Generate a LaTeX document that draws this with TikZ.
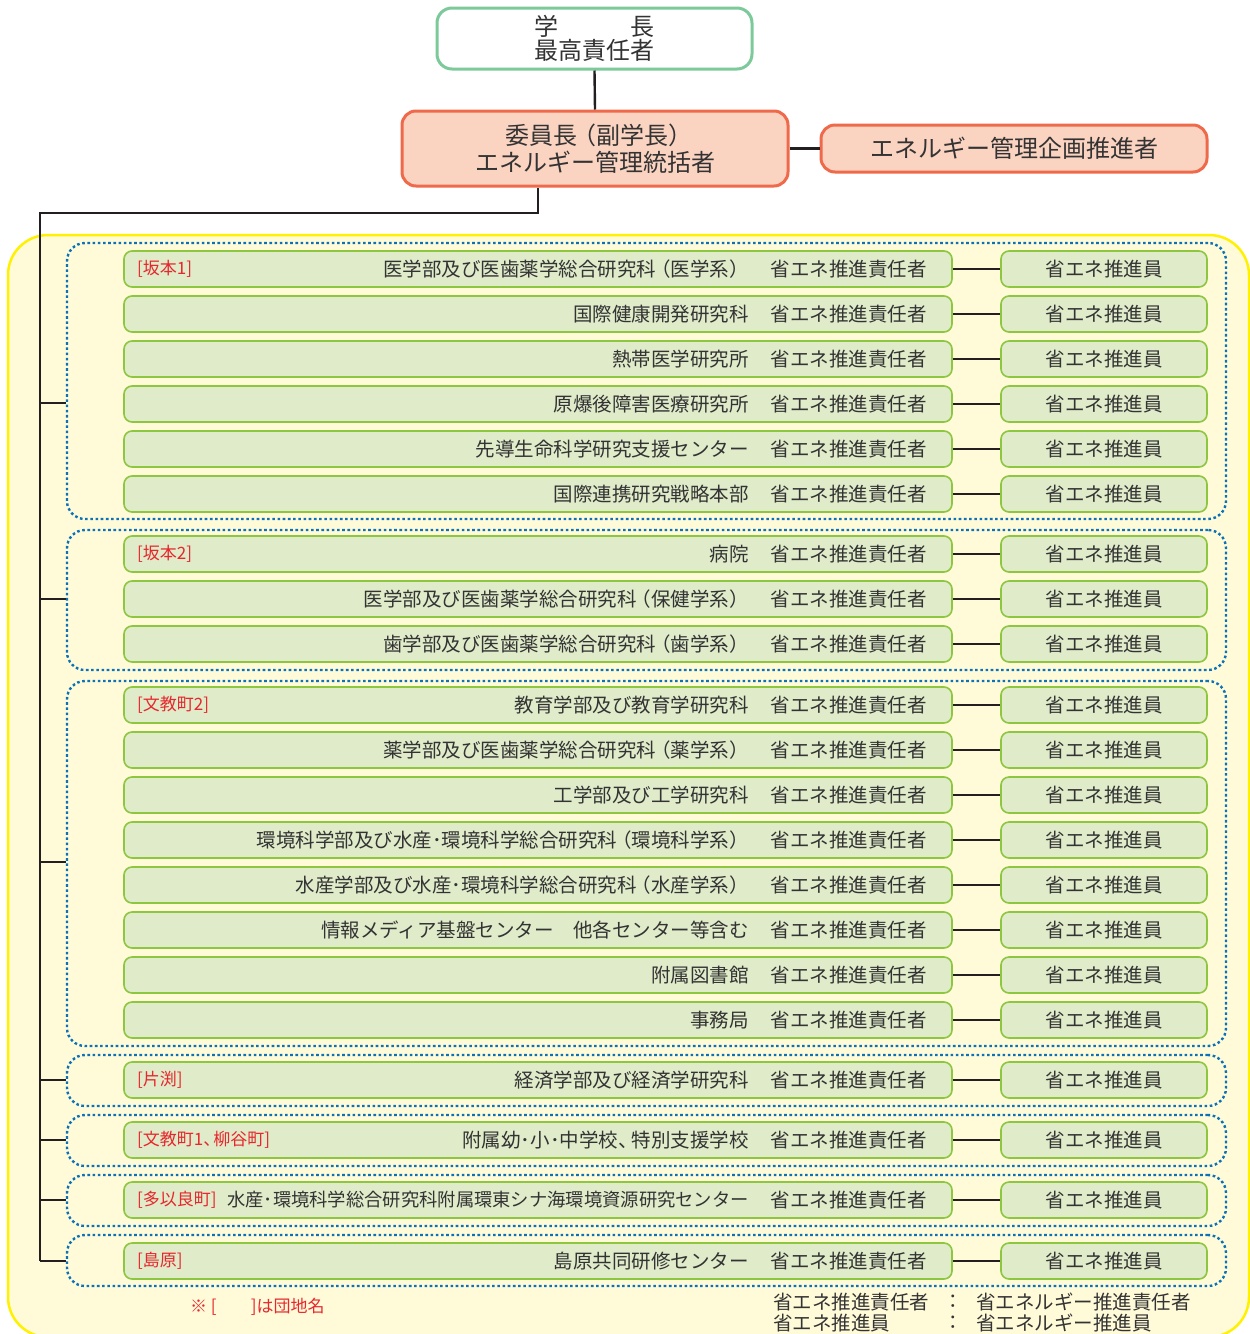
\documentclass[tikz,border=0pt]{standalone}
\usepackage{fontspec}
\setmainfont{Noto Sans CJK JP}
\definecolor{yfill}{HTML}{FFFBD9}
\definecolor{ybord}{HTML}{FFF100}
\definecolor{gfill}{HTML}{DFEBC9}
\definecolor{gbord}{HTML}{8DC63F}
\definecolor{topbord}{HTML}{7CC99A}
\definecolor{sfill}{HTML}{FBD3C1}
\definecolor{sbord}{HTML}{EE6A4B}
\definecolor{dotblue}{HTML}{0B72BA}
\definecolor{redlab}{HTML}{E8262D}
\definecolor{txt}{HTML}{333333}
\definecolor{lineblk}{HTML}{231F20}
\newcommand\myrowfont{\fontsize{19.5}{22}\selectfont}
\newcommand\mylabfont{\fontsize{17}{19}\selectfont}
\newcommand\mybigfont{\fontsize{24}{26}\selectfont}
\newcommand\myrp{）\hspace{-8pt}}
\newcommand\mylp{\hspace{-5pt}（}
\tikzset{
 lbox/.style={draw=gbord, fill=gfill, line width=1.6pt, rounded corners=8pt, minimum width=828pt, minimum height=36pt, inner sep=0pt},
 rbox/.style={lbox, minimum width=206pt, text=txt, font=\myrowfont},
 grp/.style={draw=dotblue, line width=2.4pt, dash pattern=on 2.6pt off 2.6pt, rounded corners=18pt, minimum width=1159pt, inner sep=0pt},
 conn/.style={draw=lineblk, line width=2.4pt},
 dept/.style={text=txt, font=\myrowfont, inner sep=0pt},
 lab/.style={text=redlab, font=\mylabfont, inner sep=0pt},
 topbox/.style={draw=topbord, fill=white, line width=3pt, rounded corners=15pt, text=txt, font=\mybigfont, align=center, inner sep=0pt},
 salbox/.style={draw=sbord, fill=sfill, line width=3pt, rounded corners=14pt, text=txt, font=\mybigfont, align=center, inner sep=0pt},
}
\newcommand\orgrow[4]{%
 \node[lbox] (L#1) at (538,#2) {};
 \node[rbox] (R#1) at (1104,#2) {省エネ推進員};
 \if\relax\detokenize{#3}\relax\else
 \node[lab, anchor=west] (Lb#1) at (137,#2) {#3};
 \fi
 \node[dept, anchor=east] (D#1) at (749,#2) {#4};
 \node[dept, anchor=east] (S#1) at (927,#2) {省エネ推進責任者};
 \draw[conn] (L#1.east) -- (R#1.west);
}
\begin{document}
\begin{tikzpicture}[x=1pt,y=-1pt]
\useasboundingbox (0,0) rectangle (1250,1334);
% yellow background
\draw[draw=ybord, fill=yfill, line width=2.5pt, rounded corners=40pt] (8,235) rectangle (1249,1337);
% top boxes
\node[topbox, minimum width=315pt, minimum height=61pt] (T) at (594.5,38.5) {学　　　長\\[-2pt]最高責任者};
\node[salbox, minimum width=386pt, minimum height=75pt] (C) at (595,148.5) {委員長\mylp 副学長\myrp\hspace{8pt}\\[1pt]エネルギー管理統括者};
\node[salbox, minimum width=386pt, minimum height=47pt] (P) at (1014,148.5) {エネルギー管理企画推進者};
\draw[conn] (T.south) -- (C.north);
\draw[conn] (C.east) -- (P.west);
% groups
\node[grp, minimum height=276pt] (G1) at (646.5,381) {};
\node[grp, minimum height=140pt] (G2) at (646.5,600) {};
\node[grp, minimum height=365pt] (G3) at (646.5,863.5) {};
\node[grp, minimum height=51pt] (G4) at (646.5,1080.5) {};
\node[grp, minimum height=51pt] (G5) at (646.5,1140.5) {};
\node[grp, minimum height=51pt] (G6) at (646.5,1200.5) {};
\node[grp, minimum height=51pt] (G7) at (646.5,1260.5) {};
% trunk
\coordinate (t0) at (538,213);
\coordinate (t1) at (40,213);
\coordinate (b1) at (40,403);
\coordinate (b2) at (40,599);
\coordinate (b3) at (40,862);
\coordinate (b4) at (40,1080);
\coordinate (b5) at (40,1140);
\coordinate (b6) at (40,1200);
\coordinate (b7) at (40,1261);
\draw[conn] (C.south -| t0) -- (t0) -- (t1) -- (b7);
\foreach \i in {1,...,7}{\draw[conn] (b\i) -- (G\i.west |- b\i);}
% rows
\orgrow{1}{269}{[坂本1]}{医学部及び医歯薬学総合研究科\mylp 医学系\myrp}
\orgrow{2}{314}{}{国際健康開発研究科}
\orgrow{3}{359}{}{熱帯医学研究所}
\orgrow{4}{404}{}{原爆後障害医療研究所}
\orgrow{5}{449}{}{先導生命科学研究支援センター}
\orgrow{6}{494}{}{国際連携研究戦略本部}
\orgrow{7}{554}{[坂本2]}{病院}
\orgrow{8}{599}{}{医学部及び医歯薬学総合研究科\mylp 保健学系\myrp}
\orgrow{9}{644}{}{歯学部及び医歯薬学総合研究科\mylp 歯学系\myrp}
\orgrow{10}{705}{[文教町2]}{教育学部及び教育学研究科}
\orgrow{11}{750}{}{薬学部及び医歯薬学総合研究科\mylp 薬学系\myrp}
\orgrow{12}{795}{}{工学部及び工学研究科}
\orgrow{13}{840}{}{環境科学部及び水産･環境科学総合研究科\mylp 環境科学系\myrp}
\orgrow{14}{885}{}{水産学部及び水産･環境科学総合研究科\mylp 水産学系\myrp}
\orgrow{15}{930}{}{情報メディア基盤センター　他各センター等含む}
\orgrow{16}{975}{}{附属図書館}
\orgrow{17}{1020}{}{事務局}
\orgrow{18}{1080}{[片渕]}{経済学部及び経済学研究科}
\orgrow{19}{1140}{[文教町1、\hspace{-7pt}柳谷町]}{附属幼･小･中学校、\hspace{-6pt}特別支援学校}
\orgrow{20}{1200}{[多以良町]}{{\fontsize{18.3}{20}\selectfont 水産･環境科学総合研究科附属環東シナ海環境資源研究センター}}
\orgrow{21}{1261}{[島原]}{島原共同研修センター}
% footnote and legend
\node[lab, anchor=west] (fn) at (190,1307) {※ [　　]は団地名};
\node[dept, anchor=west] (lg1a) at (773,1302) {省エネ推進責任者};
\node[dept] (lg1b) at (953,1302) {：};
\node[dept, anchor=west] (lg1c) at (976,1302) {省エネルギー推進責任者};
\node[dept, anchor=west] (lg2a) at (773,1323) {省エネ推進員};
\node[dept] (lg2b) at (953,1323) {：};
\node[dept, anchor=west] (lg2c) at (976,1323) {省エネルギー推進員};
\end{tikzpicture}
\end{document}
